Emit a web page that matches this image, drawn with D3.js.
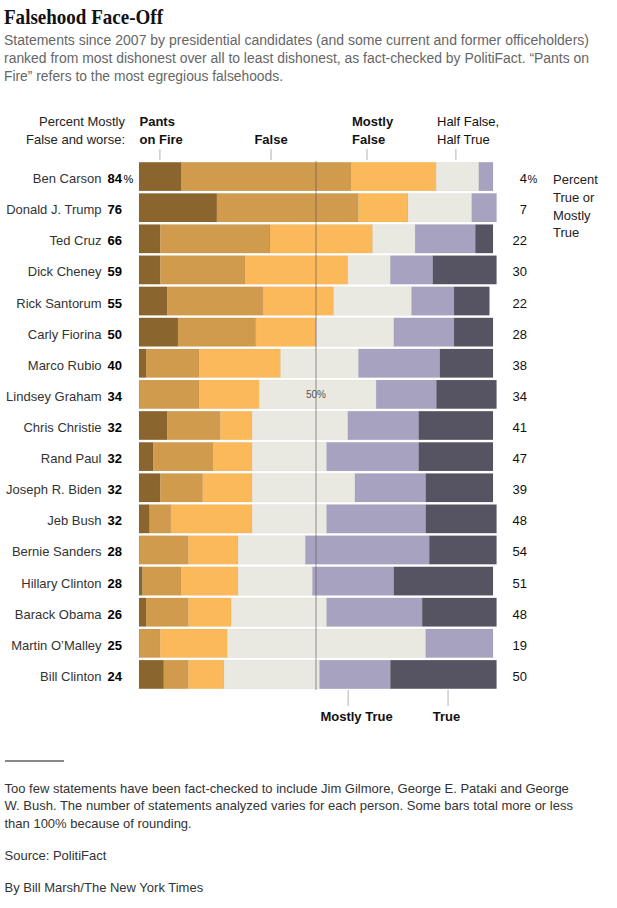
<!DOCTYPE html>
<html><head><meta charset="utf-8">
<script src="https://cdn.jsdelivr.net/npm/d3@7"></script>
<style>
html,body{margin:0;padding:0;background:#fff;}
svg{display:block;font-family:"Liberation Sans",Arial,sans-serif;}
</style></head>
<body><svg id="c" width="617" height="908"></svg>
<script>
const names = ["Ben Carson","Donald J. Trump","Ted Cruz","Dick Cheney","Rick Santorum","Carly Fiorina","Marco Rubio","Lindsey Graham","Chris Christie","Rand Paul","Joseph R. Biden","Jeb Bush","Bernie Sanders","Hillary Clinton","Barack Obama","Martin O\u2019Malley","Bill Clinton"];
const categories = ["Pants on Fire","False","Mostly False","Half True","Mostly True","True"];
const pantsOnFire = [12,22,6,6,8,11,2,0,8,4,6,3,0,1,2,0,7];
const falseVals   = [48,40,31,24,27,22,15,17,15,17,12,6,14,11,12,6,7];
const mostlyFalse = [24,14,29,29,20,17,23,17,9,11,14,23,14,16,12,19,10];
const halfTrue    = [12,18,12,12,22,22,22,33,27,21,29,21,19,21,27,56,27];
const mostlyTrue  = [4,7,17,12,12,17,23,17,20,26,20,28,35,23,27,19,20];
const trueVals    = [0,0,5,18,10,11,15,17,21,21,19,20,19,28,21,0,30];
const falseAndWorse    = [84,76,66,59,55,50,40,34,32,32,32,32,28,28,26,25,24];
const trueOrMostlyTrue = [4,7,22,30,22,28,38,34,41,47,39,48,54,51,48,19,50];
const colors = ["#8a652e","#d09b4c","#fbb95a","#e9e8e1","#a6a2c0","#565463"];

const title = "Falsehood Face-Off";
const subtitle = ["Statements since 2007 by presidential candidates (and some current and former officeholders)",
  "ranked from most dishonest over all to least dishonest, as fact-checked by PolitiFact. \u201cPants on",
  "Fire\u201d refers to the most egregious falsehoods."];
const leftHead = ["Percent Mostly","False and worse:"];
const rightHead = ["Percent","True or","Mostly","True"];
const footnote = ["Too few statements have been fact-checked to include Jim Gilmore, George E. Pataki and George",
  "W. Bush. The number of statements analyzed varies for each person. Some bars total more or less",
  "than 100% because of rounding."];
const source = "Source: PolitiFact";
const credit = "By Bill Marsh/The New York Times";

const series = [pantsOnFire,falseVals,mostlyFalse,halfTrue,mostlyTrue,trueVals];
const table = names.map((n,i)=>{const o={name:n}; categories.forEach((c,k)=>o[c]=series[k][i]); return o;});
const stacked = d3.stack().keys(categories)(table);

const svg = d3.select("#c");
const x = d3.scaleLinear().domain([0,100]).range([139,493]);
const y = d3.scaleBand().domain(names).range([161,690]).paddingInner(0.08).paddingOuter(0.04);
const color = d3.scaleOrdinal().domain(categories).range(colors);

function fitText(sel, w){ sel.each(function(){ const L=this.getComputedTextLength(); if(L>w) d3.select(this).attr("textLength",w).attr("lengthAdjust","spacingAndGlyphs"); }); }

// title
svg.append("text").attr("x",4).attr("y",24).attr("font-family","'Liberation Serif','DejaVu Serif',serif")
  .attr("font-weight","bold").attr("font-size",21).attr("fill","#111").text(title).call(fitText,159);
const subW=[585,585,279];
subtitle.forEach((s,i)=>{
  svg.append("text").attr("x",4).attr("y",44.5+i*18).attr("font-size",14).attr("fill","#666").text(s).call(fitText,subW[i]);
});

// header
leftHead.forEach((s,i)=>svg.append("text").attr("x",125).attr("y",126+i*17.6).attr("text-anchor","end").attr("font-size",13).attr("fill","#222").text(s));
const hb = svg.append("g").attr("font-size",13).attr("fill","#111");
hb.append("text").attr("x",139.5).attr("y",126).attr("font-weight","bold").text("Pants");
hb.append("text").attr("x",139.5).attr("y",143.6).attr("font-weight","bold").text("on Fire");
hb.append("text").attr("x",x(37.3)).attr("y",143.6).attr("text-anchor","middle").attr("font-weight","bold").text(categories[1]);
hb.append("text").attr("x",352).attr("y",126).attr("font-weight","bold").text("Mostly");
hb.append("text").attr("x",352).attr("y",143.6).attr("font-weight","bold").text("False");
hb.append("text").attr("x",437).attr("y",126).text("Half False,");
hb.append("text").attr("x",437).attr("y",143.6).text(categories[3]);
[5.9,37.3,64.4,89.5].forEach(v=>svg.append("line").attr("x1",x(v)).attr("x2",x(v)).attr("y1",149).attr("y2",160).attr("stroke","#ccc").attr("stroke-width",1.5));
[59.1,87.3].forEach(v=>svg.append("line").attr("x1",x(v)).attr("x2",x(v)).attr("y1",690).attr("y2",706).attr("stroke","#ccc").attr("stroke-width",1.5));
svg.append("text").attr("x",356.5).attr("y",720.5).attr("text-anchor","middle").attr("font-size",13).attr("font-weight","bold").attr("fill","#111").text(categories[4]);
svg.append("text").attr("x",446.5).attr("y",720.5).attr("text-anchor","middle").attr("font-size",13).attr("font-weight","bold").attr("fill","#111").text(categories[5]);

// bars
svg.append("g").selectAll("g").data(stacked).join("g").attr("fill",d=>color(d.key))
  .selectAll("rect").data(d=>d).join("rect")
  .attr("x",d=>x(d[0])).attr("width",d=>x(d[1])-x(d[0]))
  .attr("y",d=>y(d.data.name)).attr("height",y.bandwidth())
  .attr("stroke","rgba(0,0,0,0.04)").attr("stroke-width",0.8);

// 50% line
svg.append("line").attr("x1",x(50)).attr("x2",x(50)).attr("y1",161).attr("y2",690)
  .attr("stroke","rgba(90,90,90,0.4)").attr("stroke-width",1.6);
svg.append("text").attr("x",x(50)).attr("y",y("Lindsey Graham")+y.bandwidth()/2+3.5).attr("text-anchor","middle")
  .attr("font-size",10).attr("fill","#555").text("50%");

// labels
const cy = n => y(n)+y.bandwidth()/2+6.5;
svg.append("g").selectAll("text").data(names).join("text").attr("x",101.5).attr("y",cy)
  .attr("text-anchor","end").attr("font-size",13).attr("fill","#333").text(d=>d);
const lv = svg.append("g").selectAll("text").data(names).join("text").attr("x",107.5).attr("y",cy)
  .attr("font-size",13).attr("fill","#000");
lv.append("tspan").attr("font-weight","bold").text((d,i)=>falseAndWorse[i]);
lv.filter((d,i)=>i===0).append("tspan").attr("font-size",11).attr("dx",1.5).text("%");
const rv = svg.append("g").selectAll("text").data(names).join("text").attr("x",527).attr("y",cy)
  .attr("text-anchor","end").attr("font-size",13).attr("fill","#111").text((d,i)=>trueOrMostlyTrue[i]);
svg.append("text").attr("x",527.5).attr("y",cy(names[0])).attr("font-size",11).attr("fill","#111").text("%");
rightHead.forEach((s,i)=>svg.append("text").attr("x",553).attr("y",184+i*17.8).attr("font-size",13).attr("fill","#222").text(s));

// footer
svg.append("line").attr("x1",5).attr("x2",64).attr("y1",761).attr("y2",761).attr("stroke","#111").attr("stroke-width",1);
const fW=[582,588,195];
footnote.forEach((s,i)=>svg.append("text").attr("x",4.5).attr("y",792.5+i*17.8).attr("font-size",13).attr("fill","#333").text(s).call(fitText,fW[i]));
svg.append("text").attr("x",4.5).attr("y",859.5).attr("font-size",13).attr("fill","#333").text(source).call(fitText,106);
svg.append("text").attr("x",4.5).attr("y",891.5).attr("font-size",13).attr("fill","#333").text(credit).call(fitText,208);
</script></body></html>
